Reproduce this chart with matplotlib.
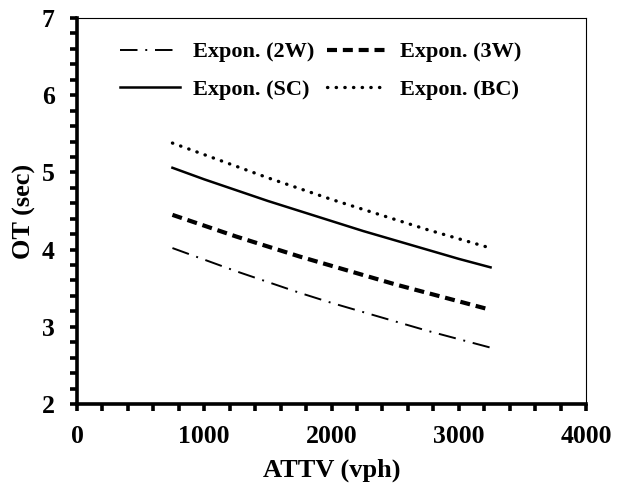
import numpy as np
import matplotlib
matplotlib.use("Agg")
import matplotlib.pyplot as plt
from matplotlib.ticker import MultipleLocator

# valores (tendencias exponenciales)
attv = [750, 1000, 1250, 1500, 1750, 2000, 2250, 2500, 2750, 3000, 3250]
ot_2w = [4.02, 3.87, 3.72, 3.58, 3.44, 3.31, 3.19, 3.07, 2.95, 2.84, 2.73]
ot_3w = [4.45, 4.31, 4.17, 4.04, 3.91, 3.79, 3.67, 3.55, 3.44, 3.33, 3.22]
ot_sc = [5.06, 4.91, 4.77, 4.63, 4.50, 4.37, 4.24, 4.12, 4.00, 3.88, 3.77]
ot_bc = [5.38, 5.23, 5.08, 4.93, 4.79, 4.65, 4.52, 4.39, 4.26, 4.14, 4.02]

plt.rcParams['font.family'] = ['Liberation Serif', 'DejaVu Serif']
plt.rcParams['font.weight'] = 'bold'

fig = plt.figure(figsize=(6.26, 4.87), dpi=100)
ax = fig.add_axes([77/626, 1-404/487, (586-77)/626, (404-18)/487])

l2w, = ax.plot(attv, ot_2w, color='black', lw=1.4, dashes=(9, 4, 1, 4), label='Expon. (2W)')
l3w, = ax.plot(attv, ot_3w, color='black', lw=3, dashes=(2.4, 1.4), label='Expon. (3W)')
lsc, = ax.plot(attv, ot_sc, color='black', lw=1.8, label='Expon. (SC)')
lbc, = ax.plot(attv, ot_bc, color='black', lw=2.4, dashes=(0.1, 2.5), dash_capstyle='round', label='Expon. (BC)')

ax.set_xlim(0, 4000)
ax.set_ylim(2, 7)
ax.xaxis.set_major_locator(MultipleLocator(1000))
ax.xaxis.set_minor_locator(MultipleLocator(200))
ax.yaxis.set_major_locator(MultipleLocator(1))
ax.yaxis.set_minor_locator(MultipleLocator(0.2))

ax.spines['left'].set_linewidth(2.6)
ax.spines['bottom'].set_linewidth(2.6)
ax.spines['top'].set_linewidth(0.8)
ax.spines['right'].set_linewidth(0.8)

ax.tick_params(which='both', direction='out', length=5, width=2.6, top=False, right=False)
ax.tick_params(axis='x', which='major', labelsize=18.5, pad=10)
ax.tick_params(axis='y', which='major', labelsize=18.5, pad=11)
for lbl in ax.get_xticklabels() + ax.get_yticklabels():
    lbl.set_fontweight('bold')

ax.set_xlabel('ATTV (vph)', fontsize=19, fontweight='bold', labelpad=8)
ax.set_ylabel('OT (sec)', fontsize=19, fontweight='bold', labelpad=4)

# orden para que la primera fila sea 2W / 3W
handles = [l2w, lsc, l3w, lbc]
leg = ax.legend(handles=handles, labels=[h.get_label() for h in handles],
                ncol=2, frameon=False, loc='upper left', bbox_to_anchor=(0.045, 0.99),
                prop={'family': 'Liberation Serif', 'weight': 'bold', 'size': 16},
                handlelength=2.7, columnspacing=0.55, handletextpad=0.6, labelspacing=0.75)

fig.savefig('out.png', dpi=100)
